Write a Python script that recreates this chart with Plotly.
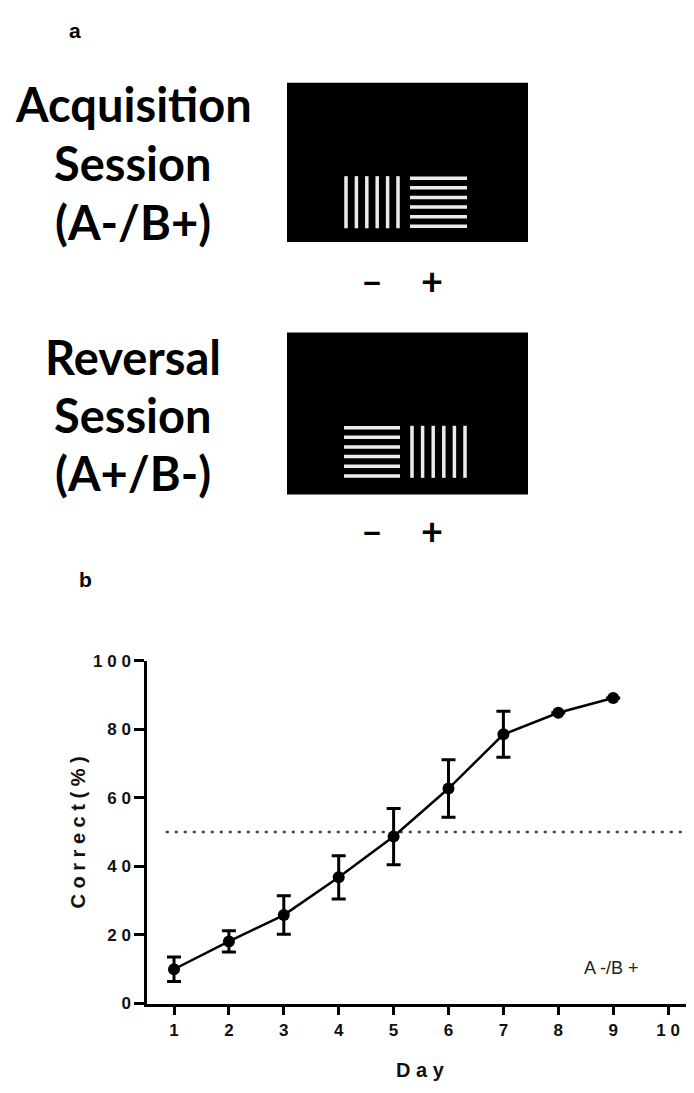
import plotly.graph_objects as go

# ---------------- data (panel b) ----------------
days = [1, 2, 3, 4, 5, 6, 7, 8, 9]
correct_pct = [10.0, 18.1, 25.8, 36.8, 48.7, 62.7, 78.5, 84.8, 89.1]
sem_pct = [3.6, 3.1, 5.6, 6.3, 8.2, 8.4, 6.7, 0.0, 0.0]
chance_level = 50
chance_x = [0.85, 10.6]
x_ticks = [1, 2, 3, 4, 5, 6, 7, 8, 9, 10]
y_ticks = [0, 20, 40, 60, 80, 100]

# ---------------- panel a schematic text ----------------
acq_lines = ["Acquisition", "Session", "(A-/B+)"]
rev_lines = ["Reversal", "Session", "(A+/B-)"]
session_labels = ["–", "+"]

W, H = 694, 1093
OFF = 8  # default page body margin; layout is expressed in page pixels
ARIAL = "Arial, Liberation Sans, sans-serif"
CAL = "Lato, Open Sans, sans-serif"


def spaced(s):
    return " ".join(list(s))


fig = go.Figure()

fig.add_trace(go.Scatter(
    x=chance_x, y=[chance_level, chance_level], mode="lines",
    line=dict(color="#444444", width=2.5, dash="3px,6px"),
    hoverinfo="skip", showlegend=False))

fig.add_trace(go.Scatter(
    x=days, y=correct_pct, mode="lines+markers",
    line=dict(color="black", width=2.5),
    marker=dict(color="black", size=12),
    error_y=dict(type="data", array=sem_pct, visible=True,
                 color="black", thickness=3, width=7),
    showlegend=False))

# hidden full-page axes (page pixels) for the schematic of panel a
fig.add_trace(go.Scatter(x=[0], y=[0], xaxis="x2", yaxis="y2", mode="markers",
                         marker=dict(opacity=0), hoverinfo="skip", showlegend=False))

shapes = []
rects = [(75, 237), (329, 494)]
left_group = (344, 400)
right_group = (410, 467)
n_stripes = 6
for ri, (top, bottom) in enumerate(rects):
    shapes.append(dict(type="rect", xref="x2", yref="y2", x0=287, x1=528,
                       y0=top, y1=bottom, fillcolor="black",
                       line=dict(color="black", width=0)))
    s_top = top + 95
    s_bot = s_top + 53
    vert_group = left_group if ri == 0 else right_group
    horiz_group = right_group if ri == 0 else left_group
    for k in range(n_stripes):
        xv = vert_group[0] + 2 + k * (vert_group[1] - vert_group[0] - 4) / (n_stripes - 1)
        shapes.append(dict(type="line", xref="x2", yref="y2", x0=xv, x1=xv,
                           y0=s_top, y1=s_bot, line=dict(color="#ececec", width=3.5)))
        yh = s_top + 2 + k * (s_bot - s_top - 4) / (n_stripes - 1)
        shapes.append(dict(type="line", xref="x2", yref="y2", x0=horiz_group[0],
                           x1=horiz_group[1], y0=yh, y1=yh,
                           line=dict(color="#ececec", width=3.5)))

annotations = []
annotations.append(dict(text="<b>a</b>", x=75, y=22, xref="x2", yref="y2",
                        showarrow=False, font=dict(family=ARIAL, size=21, color="black")))
annotations.append(dict(text="<b>b</b>", x=85, y=580, xref="x2", yref="y2",
                        showarrow=False, font=dict(family=ARIAL, size=21, color="black")))
for lines, ys in ((acq_lines, [97, 157, 217]), (rev_lines, [354, 413, 472])):
    for t, yy in zip(lines, ys):
        annotations.append(dict(text=f"<b>{t}</b>", x=133, y=yy, xref="x2", yref="y2",
                                showarrow=False,
                                font=dict(family=CAL, size=47, color="black")))
for yy in (276, 530):
    for t, xx in zip(session_labels, (372, 432)):
        annotations.append(dict(text=f"<b>{t}</b>", x=xx, y=yy, xref="x2", yref="y2",
                                showarrow=False,
                                font=dict(family=CAL, size=38, color="black")))

annotations.append(dict(text="A -/B +", x=611, y=976, xref="x2", yref="y2",
                        showarrow=False, font=dict(family=ARIAL, size=18, color="#222")))
annotations.append(dict(text="<b>" + spaced("Correct(%)") + "</b>", x=78, y=838,
                        xref="x2", yref="y2", textangle=-90, showarrow=False,
                        font=dict(family=ARIAL, size=20, color="#111")))
annotations.append(dict(text="<b>" + spaced("Day") + "</b>", x=420, y=1080,
                        xref="x2", yref="y2", showarrow=False,
                        font=dict(family=ARIAL, size=20, color="#111")))

# plot area in page pixels (reference)
x_left_px, x_right_px = 147, W + OFF
y_top_px, y_bot_px = 663, 1012
day1_px, px_per_day = 174, 54.9
x0 = 1 - (day1_px - x_left_px) / px_per_day
x1 = 1 + (x_right_px - day1_px) / px_per_day

fig.update_layout(
    width=W, height=H,
    margin=dict(l=0, r=0, t=0, b=0),
    paper_bgcolor="white", plot_bgcolor="rgba(0,0,0,0)",
    shapes=shapes, annotations=annotations,
    xaxis=dict(domain=[(x_left_px - OFF) / W, (x_right_px - OFF) / W], range=[x0, x1],
               anchor="y",
               tickvals=x_ticks, ticktext=[spaced(str(v)) for v in x_ticks],
               showline=True, linecolor="black", linewidth=2.5,
               ticks="outside", ticklen=9, tickwidth=2.5, tickcolor="black",
               showgrid=False, zeroline=False,
               tickfont=dict(family=ARIAL, size=17, color="#111", weight="bold")),
    yaxis=dict(domain=[1 - (y_bot_px - OFF) / H, 1 - (y_top_px - OFF) / H], range=[0, 100],
               anchor="x",
               tickvals=y_ticks, ticktext=[spaced(str(v)) for v in y_ticks],
               showline=True, linecolor="black", linewidth=2.5,
               ticks="outside", ticklen=10, tickwidth=2.5, tickcolor="black",
               showgrid=False, zeroline=False,
               tickfont=dict(family=ARIAL, size=17, color="#111", weight="bold")),
    xaxis2=dict(domain=[0, 1], range=[OFF, W + OFF], visible=False, anchor="y2",
                fixedrange=True),
    yaxis2=dict(domain=[0, 1], range=[H + OFF, OFF], visible=False, anchor="x2",
                fixedrange=True),
)

fig.write_html("out.html")
